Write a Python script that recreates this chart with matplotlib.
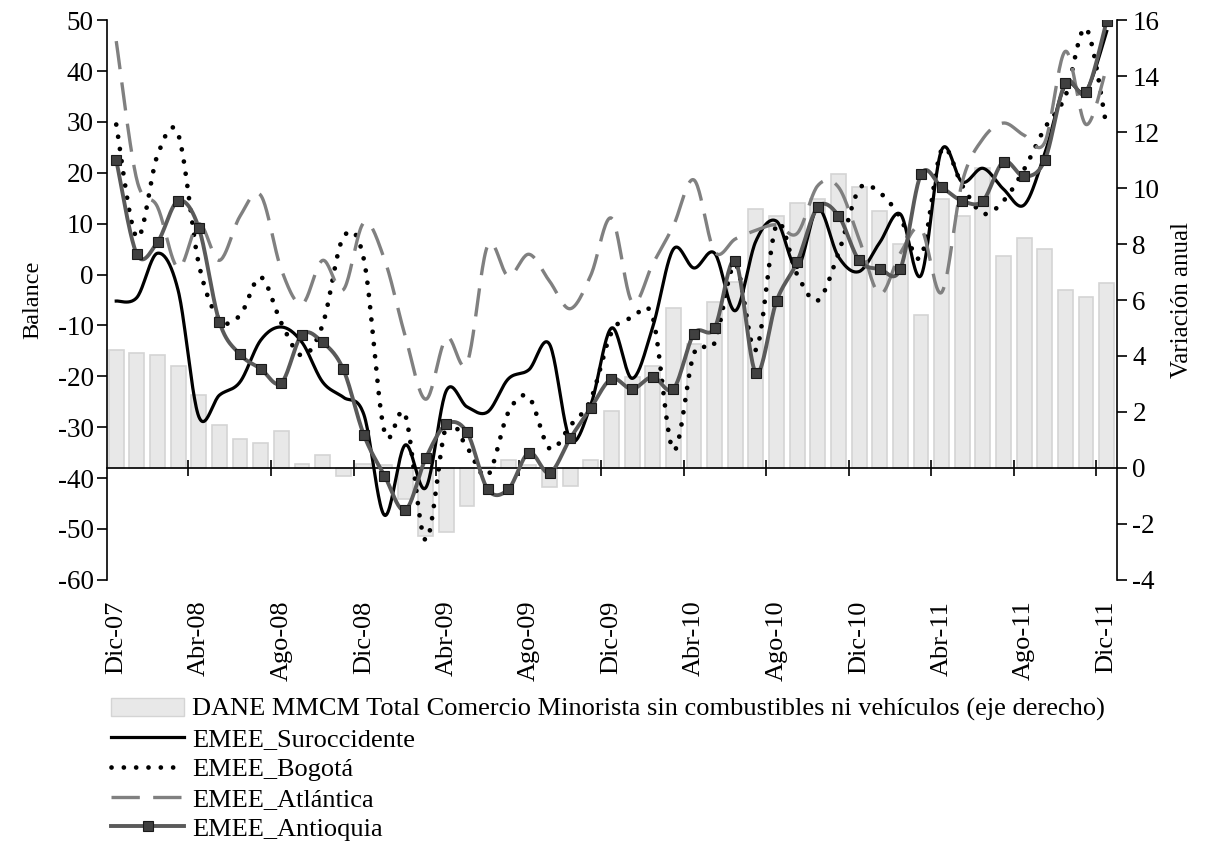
import numpy as np
import matplotlib.pyplot as plt
from matplotlib.patches import Patch
from matplotlib.lines import Line2D
from matplotlib.ticker import FixedLocator

plt.rcParams['font.family'] = ['Liberation Serif', 'DejaVu Serif']
plt.rcParams['axes.unicode_minus'] = False

# ---------------- datos ----------------
meses = ["Ene", "Feb", "Mar", "Abr", "May", "Jun", "Jul", "Ago", "Sep", "Oct", "Nov", "Dic"]
fechas = ["Dic-07"] + [f"{m}-{a:02d}" for a in range(8, 12) for m in meses]

# variación anual, eje derecho
comercio = [4.2, 4.1, 4.05, 3.65, 2.6, 1.55, 1.05, 0.9, 1.33, 0.15, 0.45, -0.3,
            0.15, 0.1, -1.1, -2.45, -2.3, -1.35, 0.05, 0.3, 0.1, -0.7, -0.65, 0.3,
            2.05, 3.25, 3.65, 5.72, 4.43, 5.94, 6.65, 9.25, 9.0, 9.47, 9.6, 10.49,
            10.03, 9.17, 8.0, 5.48, 9.6, 9.0, 10.71, 7.56, 8.21, 7.83, 6.37, 6.1, 6.6]

suroccidente = [-5.2, -4.5, 4.2, -3.1, -27.9, -23.7, -21.1, -12.9, -10.3, -13.3, -21.1, -24.1,
                -27.5, -47.3, -33.5, -41.9, -22.8, -26.0, -27.0, -20.5, -18.7, -13.7, -32.4, -25.6,
                -10.5, -20.4, -10.3, 5.0, 1.3, 4.2, -7.1, 6.6, 10.5, 1.4, 13.0, 3.5,
                0.6, 6.3, 11.9, -0.2, 24.5, 18.2, 20.9, 16.8, 13.7, 23.8, 37.2, 36.1, 47.8]

bogota = [29.5, 7.3, 23.5, 27.6, 2.1, -8.8, -8.0, -0.5, -9.5, -15.9, -9.9, 7.3,
          3.0, -30.9, -27.5, -52.2, -29.7, -34.0, -39.5, -27.1, -24.1, -34.2, -29.7, -24.5,
          -11.4, -8.5, -8.4, -34.5, -15.5, -13.4, 2.0, -14.8, 9.8, 0.0, -5.1, 4.2,
          16.8, 16.1, 11.2, 3.5, 24.5, 17.5, 12.0, 14.5, 20.7, 28.8, 35.1, 48.4, 28.8]

atlantica = [45.9, 18.6, 13.3, 1.3, 10.0, 2.8, 11.5, 15.6, 1.0, -5.8, 2.8, -3.0,
             10.2, 3.0, -12.0, -24.5, -12.4, -17.4, 5.7, -0.3, 4.0, -1.3, -6.7, -0.1,
             11.1, -5.4, 2.1, 9.6, 18.6, 4.5, 7.0, 8.7, 9.8, 8.1, 17.5, 17.2,
             7.0, -3.8, 4.2, 9.1, -3.5, 18.2, 26.7, 29.8, 27.4, 26.0, 43.9, 29.5, 40.8]

antioquia = [22.5, 4.0, 6.4, 14.5, 9.2, -9.3, -15.7, -18.5, -21.3, -11.8, -13.3, -18.6,
             -31.5, -39.5, -46.3, -36.1, -29.4, -31.0, -42.2, -42.2, -35.0, -39.0, -32.2, -26.2,
             -20.5, -22.5, -20.1, -22.5, -11.6, -10.5, 2.7, -19.3, -5.2, 2.5, 13.3, 11.6,
             2.8, 1.1, 1.1, 19.7, 17.2, 14.5, 14.5, 22.2, 19.3, 22.5, 37.7, 35.8, 49.9]

etiquetas = ["DANE MMCM Total Comercio Minorista sin combustibles ni vehículos (eje derecho)",
             "EMEE_Suroccidente", "EMEE_Bogotá", "EMEE_Atlántica", "EMEE_Antioquia"]


# linea suavizada tipo Excel (bezier con tangentes de Catmull-Rom)
def suavizar(y, n=24):
    y = np.asarray(y, float)
    p = np.column_stack([np.arange(len(y), dtype=float), y])
    p = np.vstack([p[0], p, p[-1]])
    t = np.linspace(0, 1, n, endpoint=False)[:, None]
    out = []
    for k in range(1, len(p) - 2):
        p0, p1, p2, p3 = p[k - 1], p[k], p[k + 1], p[k + 2]
        c1 = p1 + (p2 - p0) / 6
        c2 = p2 - (p3 - p1) / 6
        out.append((1 - t) ** 3 * p1 + 3 * (1 - t) ** 2 * t * c1 + 3 * (1 - t) * t ** 2 * c2 + t ** 3 * p2)
    out.append(p[-2][None, :])
    out = np.vstack(out)
    return out[:, 0], out[:, 1]


# estilos
BAR = dict(facecolor='#e8e8e8', edgecolor='#d4d4d4')
SUR = dict(color='black', lw=2.3)
BOG = dict(color='black', lw=3.4, linestyle=(0, (0.01, 2.6)), dash_capstyle='round')
ATL = dict(color='#808080', lw=2.4, linestyle=(0, (8.5, 4)))
ANT = dict(color='#5a5a5a', lw=2.8)
MRK = dict(marker='s', markersize=6.8, markerfacecolor='#404040',
           markeredgecolor='#1a1a1a', markeredgewidth=0.8)

# ---------------- figura ----------------
fig = plt.figure(figsize=(12.14, 8.44), dpi=100)
ax = fig.add_axes([0.0881, 0.313, 0.832, 0.663])
ax2 = ax.twinx()
ax.set_zorder(ax2.get_zorder() + 1)
ax.patch.set_visible(False)

x = np.arange(len(fechas))
ax2.bar(x, comercio, width=0.72, linewidth=1.2, **BAR)

xs, ys = suavizar(suroccidente)
ax.plot(xs, ys, **SUR)
xs, ys = suavizar(bogota)
ax.plot(xs, ys, **BOG)
xs, ys = suavizar(atlantica)
ax.plot(xs, ys, **ATL)
xs, ys = suavizar(antioquia)
ax.plot(xs, ys, **ANT)
ax.plot(x, antioquia, linestyle='none', **MRK)

# ejes
ax.set_xlim(-0.45, 48.5)
ax.set_ylim(-60, 50)
ax.set_yticks(range(-60, 51, 10))
ax2.set_ylim(-4, 16)
ax2.set_yticks(range(-4, 17, 2))

ax.set_xticks(x[::4])
ax.set_xticklabels(fechas[::4], rotation=90)
ax.xaxis.set_minor_locator(FixedLocator(np.arange(3.5, 48, 4)))
ax.tick_params(axis='x', which='both', length=0, pad=15, labelsize=19)
ax.tick_params(axis='y', direction='out', length=7, width=1.2, labelsize=19.5, pad=2.5)
ax2.tick_params(axis='y', direction='out', length=7, width=1.2, labelsize=19.5, pad=4)

ax2.xaxis.set_visible(True)
ax2.spines['bottom'].set_position(('data', 0))
ax2.tick_params(axis='x', which='major', length=0, labelbottom=False)
ax2.tick_params(axis='x', which='minor', direction='inout', length=12, width=1.2)

for s in ['top', 'right', 'bottom']:
    ax.spines[s].set_visible(False)
for s in ['top', 'left']:
    ax2.spines[s].set_visible(False)
ax.spines['left'].set_linewidth(1.2)
ax2.spines['right'].set_linewidth(1.2)
ax2.spines['bottom'].set_linewidth(1.2)

ax.set_ylabel('Balance', fontsize=17.5, labelpad=10)
ax2.set_ylabel('Variación anual', fontsize=18, labelpad=8)

# leyenda
handles = [Patch(**BAR),
           Line2D([], [], **SUR),
           Line2D([], [], **BOG),
           Line2D([], [], **ATL),
           Line2D([], [], **ANT, **MRK)]
fig.legend(handles, etiquetas, loc='upper left', bbox_to_anchor=(0.083, 0.186),
           frameon=False, fontsize=19, handlelength=2.75, handletextpad=0.3,
           labelspacing=0.24, borderaxespad=0)

fig.savefig('out.png', dpi=100)
